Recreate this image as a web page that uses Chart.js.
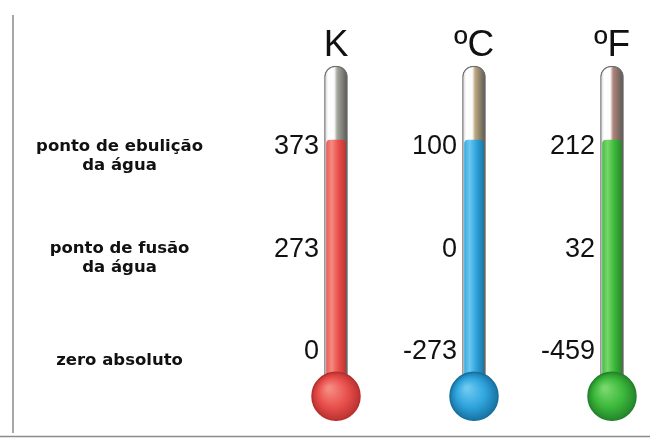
<!DOCTYPE html>
<html>
<head>
<meta charset="utf-8">
<script src="https://cdn.jsdelivr.net/npm/chart.js@4"></script>
<style>
  html, body { margin: 0; padding: 0; background: #fff; }
  #wrap { width: 650px; height: 441px; position: relative; }
</style>
</head>
<body>
<div id="wrap"><canvas id="chart"></canvas></div>
<script>
// scales and their readings at each landmark (zero absoluto, fusão, ebulição)
const units = ['K', 'ºC', 'ºF'];
const landmarks = [['zero absoluto'], ['ponto de fusão', 'da água'], ['ponto de ebulição', 'da água']];
const kelvin = [0, 273, 373];
const celsius = [-273, 0, 100];
const fahrenheit = [-459, 32, 212];
const readings = [kelvin, celsius, fahrenheit];
// every thermometer is filled up to the boiling point
const fillReading = [373, 100, 212];

const mercuryColors = ['#e9504d', '#2ea4dd', '#3cb93b'];
const mercuryLight = ['#f58a80', '#6cc8f0', '#78d66c'];
const mercuryDark = ['#b8302e', '#17709e', '#23822a'];
const glassTints = ['#a4a89d', '#bca87e', '#ae857b'];

// layout of the drawing (in landmark levels)
const TUBE_BOTTOM = -0.35;
const TUBE_TOP = 2.72;
const BULB_LEVEL = -0.5;

const fillLevels = readings.map((r, i) => r.indexOf(fillReading[i]));

function hGradient(c, i, stops) {
  const chart = c.chart;
  if (!chart.chartArea) return stops[0][1];
  const x = chart.scales.x.getPixelForValue(i);
  const g = chart.ctx.createLinearGradient(x - 11, 0, x + 11, 0);
  stops.forEach(s => g.addColorStop(s[0], s[1]));
  return g;
}

function bulbGradient(c) {
  const chart = c.chart;
  const i = c.dataIndex;
  if (!chart.chartArea) return mercuryColors[i];
  const x = chart.scales.x.getPixelForValue(i);
  const y = chart.scales.y.getPixelForValue(BULB_LEVEL);
  const g = chart.ctx.createRadialGradient(x - 7, y - 8, 2, x, y, 25);
  g.addColorStop(0, mercuryLight[i]);
  g.addColorStop(0.55, mercuryColors[i]);
  g.addColorStop(1, mercuryDark[i]);
  return g;
}

const numberLabels = {
  id: 'numberLabels',
  afterDatasetsDraw(chart) {
    const ctx = chart.ctx;
    ctx.save();
    ctx.font = '27px "Liberation Sans", Arial, sans-serif';
    ctx.fillStyle = '#111';
    ctx.textAlign = 'right';
    ctx.textBaseline = 'middle';
    readings.forEach((r, i) => {
      const x = chart.scales.x.getPixelForValue(i) - 17;
      r.forEach((v, j) => {
        ctx.fillText(String(v), x, chart.scales.y.getPixelForValue(j) + 7);
      });
    });
    ctx.restore();
  }
};

const frame = {
  id: 'frame',
  beforeDraw(chart) {
    const ctx = chart.ctx;
    ctx.save();
    ctx.strokeStyle = '#8f8a88';
    ctx.lineWidth = 1.5;
    ctx.beginPath();
    ctx.moveTo(13, 15);
    ctx.lineTo(13, 433);
    ctx.stroke();
    ctx.beginPath();
    ctx.moveTo(0, 436.5);
    ctx.lineTo(650, 436.5);
    ctx.stroke();
    ctx.restore();
  }
};

new Chart(document.getElementById('chart'), {
  type: 'bar',
  data: {
    labels: units,
    datasets: [
      {
        type: 'line',
        data: units.map(() => BULB_LEVEL),
        showLine: false,
        pointRadius: 24,
        pointHoverRadius: 24,
        pointBorderWidth: 1.5,
        pointBorderColor: units.map((u, i) => mercuryDark[i]),
        pointBackgroundColor: bulbGradient,
        clip: false,
        order: 0
      },
      {
        data: fillLevels.map(l => [TUBE_BOTTOM - 0.2, l]),
        grouped: false,
        barThickness: 19,
        borderRadius: 4,
        borderSkipped: false,
        backgroundColor: c => hGradient(c, c.dataIndex, [
          [0, mercuryColors[c.dataIndex]],
          [0.3, mercuryLight[c.dataIndex]],
          [0.6, mercuryColors[c.dataIndex]],
          [1, mercuryDark[c.dataIndex]]
        ]),
        clip: false,
        order: 1
      },
      {
        data: units.map(() => [TUBE_BOTTOM, TUBE_TOP]),
        grouped: false,
        barThickness: 23,
        borderRadius: { topLeft: 11, topRight: 11 },
        borderSkipped: false,
        borderWidth: 1.2,
        borderColor: '#6e6e6e',
        backgroundColor: c => hGradient(c, c.dataIndex, [
          [0, '#d8d8d8'],
          [0.15, '#ffffff'],
          [0.42, '#fbfbfb'],
          [0.55, glassTints[c.dataIndex]],
          [1, '#5d5a55']
        ]),
        clip: false,
        order: 2
      }
    ]
  },
  options: {
    responsive: true,
    maintainAspectRatio: false,
    animation: false,
    events: [],
    layout: { autoPadding: false, padding: { top: 4, bottom: 12, left: 0, right: 38 } },
    plugins: { legend: { display: false }, tooltip: { enabled: false } },
    scales: {
      x: {
        type: 'category',
        position: 'top',
        offset: false,
        grid: { display: false },
        border: { display: false },
        afterFit: s => { s.height = 54; s.paddingLeft = 0; s.paddingRight = 0; },
        ticks: {
          autoSkip: false,
          maxRotation: 0,
          padding: -18,
          color: '#111',
          font: { family: 'Liberation Sans', size: 37 }
        }
      },
      y: {
        min: -0.82,
        max: 2.8,
        grid: { display: false },
        border: { display: false },
        afterBuildTicks: s => { s.ticks = landmarks.map((l, i) => ({ value: i })); },
        afterFit: s => { s.width = 336; s.paddingTop = 0; s.paddingBottom = 0; },
        ticks: {
          callback: v => landmarks[v],
          crossAlign: 'center',
          padding: 125,
          labelOffset: 16,
          color: '#111',
          font: { family: 'DejaVu Sans', size: 16.5, weight: 'bold', lineHeight: 1.15 }
        }
      }
    }
  },
  plugins: [frame, numberLabels]
});
</script>
</body>
</html>
